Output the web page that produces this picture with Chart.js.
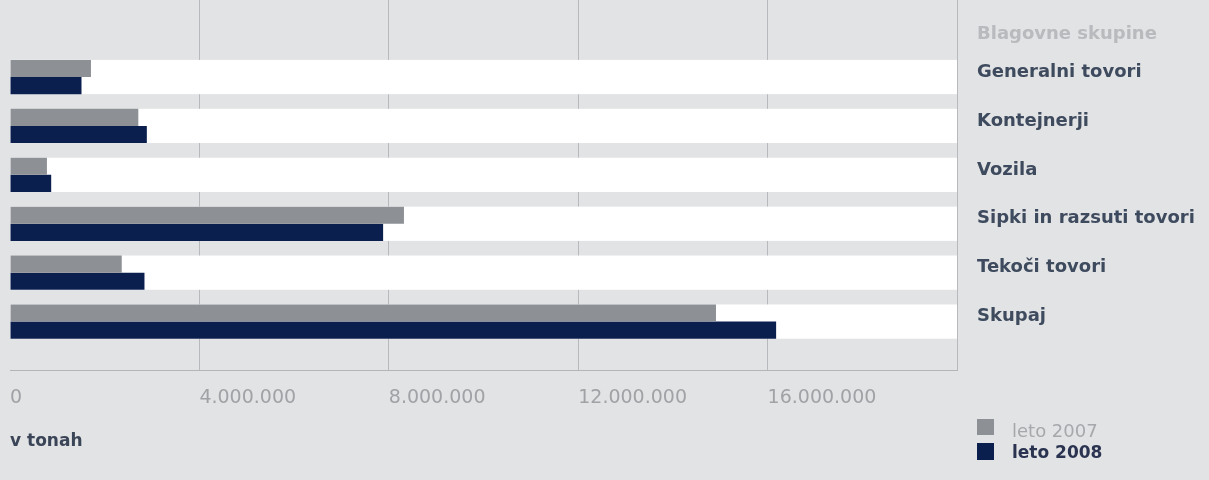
<!DOCTYPE html>
<html>
<head>
<meta charset="utf-8">
<title>Blagovne skupine</title>
<script src="https://cdn.jsdelivr.net/npm/chart.js@4.4.1/dist/chart.umd.min.js"></script>
<style>
    body { margin: 0; background: #e2e3e4; font-family: "DejaVu Sans", sans-serif; }
    .wrap { position: relative; width: 1209px; height: 480px; }
    .head { position: absolute; left: 977px; top: 22px; line-height: 22px; font-size: 18px; font-weight: bold; color: #b8babd; }
    .box { position: absolute; left: 977px; width: 17px; height: 16px; }
    .item { position: absolute; left: 1012px; line-height: 22px; font-size: 18px; }
</style>
</head>
<body>
<div class="wrap">
    <canvas id="cargoChart"></canvas>
    <div class="head">Blagovne skupine</div>
    <div class="box" style="top: 419px; background: #8d9095;"></div>
    <div class="item" style="top: 420px; color: #a6a8ac;">leto 2007</div>
    <div class="box" style="top: 443px; height: 17px; background: #0b1f4f;"></div>
    <div class="item" style="top: 441px; color: #2a3350; font-weight: bold; font-size: 17px;">leto 2008</div>
</div>
<script>
// Data (tonnes)
const categories = ['Generalni tovori', 'Kontejnerji', 'Vozila', 'Sipki in razsuti tovori', 'Tekoči tovori', 'Skupaj'];
const tons2007 = [1710000, 2710000, 780000, 8320000, 2360000, 14910000];
const tons2008 = [1510000, 2890000, 870000, 7880000, 2840000, 16180000];
const xTicks = [0, 4000000, 8000000, 12000000, 16000000, 20000000];
const xTickLabels = ['0', '4.000.000', '8.000.000', '12.000.000', '16.000.000', ''];

const fontFamily = 'DejaVu Sans';

// Drop the automatic label padding so the plot fills the canvas
function noPadding(scale) {
    scale.paddingTop = 0;
    scale.paddingBottom = 0;
    scale.paddingLeft = 0;
    scale.paddingRight = 0;
}

// White band behind each pair of bars
const bandPlugin = {
    id: 'bands',
    beforeDatasetsDraw(chart) {
        const { ctx, chartArea } = chart;
        const upper = chart.getDatasetMeta(0).data;
        const lower = chart.getDatasetMeta(1).data;
        ctx.save();
        ctx.fillStyle = '#ffffff';
        upper.forEach((bar, i) => {
            const other = lower[i];
            const y0 = Math.min(bar.y - bar.height / 2, other.y - other.height / 2);
            const y1 = Math.max(bar.y + bar.height / 2, other.y + other.height / 2);
            ctx.fillRect(chartArea.left, y0, chartArea.right - chartArea.left, y1 - y0);
        });
        ctx.restore();
    }
};

const ctx = document.getElementById('cargoChart').getContext('2d');

new Chart(ctx, {
    type: 'bar',
    data: {
        datasets: [{
            label: 'leto 2007',
            data: tons2007.map((v, i) => ({ x: v, y: i })),
            backgroundColor: '#8d9095',
            categoryPercentage: 0.7,
            barPercentage: 1
        }, {
            label: 'leto 2008',
            data: tons2008.map((v, i) => ({ x: v, y: i })),
            backgroundColor: '#0b1f4f',
            categoryPercentage: 0.7,
            barPercentage: 1
        }]
    },
    options: {
        indexAxis: 'y',
        responsive: true,
        maintainAspectRatio: false,
        animation: false,
        layout: { padding: { left: 10 }, autoPadding: false },
        plugins: {
            legend: { display: false },
            tooltip: { enabled: false }
        },
        scales: {
            x: {
                type: 'linear',
                position: 'bottom',
                min: 0,
                max: 20000000,
                z: 1,
                afterBuildTicks: scale => { scale.ticks = xTicks.map(v => ({ value: v })); },
                afterFit: scale => { scale.height = 110; noPadding(scale); },
                grid: {
                    drawTicks: false,
                    color: c => c.index === 0 ? 'transparent' : 'rgba(140,143,150,0.5)'
                },
                border: { color: '#b3b5b8' },
                ticks: {
                    align: 'start',
                    padding: 17,
                    color: '#a0a2a6',
                    font: { family: fontFamily, size: 19 },
                    callback: (v, i) => xTickLabels[i]
                },
                title: {
                    display: true,
                    text: 'v tonah',
                    align: 'start',
                    color: '#3b4558',
                    font: { family: fontFamily, size: 17, weight: 'bold' },
                    padding: { top: 0, bottom: 28 }
                }
            },
            y: {
                type: 'linear',
                position: 'right',
                reverse: true,
                offset: false,
                min: -1.575,
                max: 5.99,
                afterBuildTicks: scale => { scale.ticks = categories.map((c, i) => ({ value: i })); },
                afterFit: scale => { scale.width = 252; noPadding(scale); },
                grid: { display: false, drawTicks: false, offset: false },
                border: { display: false },
                ticks: {
                    padding: 20,
                    labelOffset: -5,
                    color: '#3e4a5e',
                    font: { family: fontFamily, size: 18, weight: 'bold' },
                    callback: (v, i) => categories[i]
                }
            }
        }
    },
    plugins: [bandPlugin]
});
</script>
</body>
</html>
